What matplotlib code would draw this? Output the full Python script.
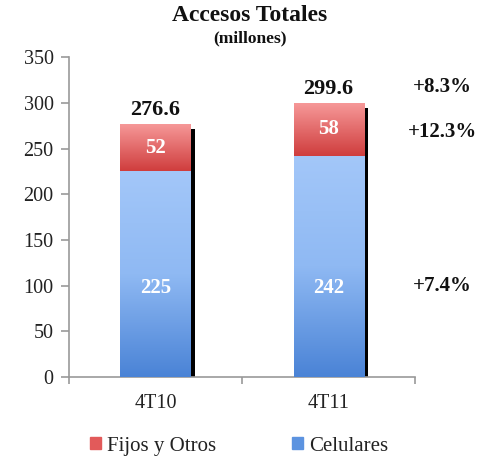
import numpy as np
import matplotlib.pyplot as plt
import matplotlib.patches as mpatches
import matplotlib.patheffects as pe
from matplotlib.colors import LinearSegmentedColormap

plt.rcParams['font.family'] = ['Liberation Serif', 'DejaVu Serif']

# data
periods = ["4T10", "4T11"]
celulares = [225, 242]
fijos = [52, 58]
totales = [276.6, 299.6]
growth_labels = ["+8.3%", "+12.3%", "+7.4%"]
growth_y = [317, 268, 100]

fig = plt.figure(figsize=(4.86, 4.57), dpi=100)
ax = fig.add_axes([0.142, 0.175, 0.712, 0.70])

x = np.arange(len(periods))
w = 0.405
shadow = [pe.SimplePatchShadow(offset=(3.5, -4), shadow_rgbFace='black', alpha=1.0), pe.Normal()]

b_cel = ax.bar(x, celulares, w, color='#7aa9ea', zorder=2, path_effects=shadow)
b_fij = ax.bar(x, fijos, w, bottom=celulares, color='#e66a6a', zorder=2, path_effects=shadow)

# gradient fills clipped to each bar
blue_cm = LinearSegmentedColormap.from_list('b', ['#4a83d6', '#8fb9f3', '#a3c7f9'])
red_cm = LinearSegmentedColormap.from_list('r', ['#cf3d3d', '#f79a9a'])
grad = np.linspace(0, 1, 256).reshape(-1, 1)
for bars, cm in [(b_cel, blue_cm), (b_fij, red_cm)]:
    for p in bars:
        x0, y0 = p.get_x(), p.get_y()
        im = ax.imshow(grad, cmap=cm, aspect='auto', origin='lower',
                       extent=[x0, x0 + p.get_width(), y0, y0 + p.get_height()],
                       zorder=3)
        im.set_clip_path(p)

for i in range(len(periods)):
    # the lower labels sit at about the same height in both bars
    ax.text(x[i], 97, str(celulares[i]), ha='center', va='center',
            color='white', fontsize=15, fontweight='bold', zorder=5)
    ax.text(x[i], celulares[i] + fijos[i] / 2, str(fijos[i]), ha='center', va='center',
            color='white', fontsize=15, fontweight='bold', zorder=5)
    ax.text(x[i], totales[i] + 5, "%.1f" % totales[i], ha='center', va='bottom',
            color='#111111', fontsize=16, fontweight='bold', zorder=5)

for lab, yy in zip(growth_labels, growth_y):
    ax.text(1.66, yy, lab, ha='center', va='center', fontsize=15,
            fontweight='bold', color='#111111', clip_on=False)

ax.set_xlim(-0.5, 1.5)
ax.set_ylim(0, 350)
ax.set_yticks(range(0, 351, 50))
ax.set_xticks(x)
ax.set_xticklabels(periods)
ax.set_xticks([-0.5, 0.5, 1.5], minor=True)
ax.tick_params(axis='x', which='major', length=0, pad=12, labelsize=14.5, labelcolor='#222222')
ax.tick_params(axis='x', which='minor', length=5, color='#999999', width=1.2)
ax.tick_params(axis='y', length=6, color='#999999', width=1.2, labelsize=14.5,
               labelcolor='#222222', pad=5)
for s in ['top', 'right']:
    ax.spines[s].set_visible(False)
for s in ['left', 'bottom']:
    ax.spines[s].set_color('#999999')
    ax.spines[s].set_linewidth(1.2)

fig.text(0.514, 0.967, "Accesos Totales", ha='center', va='center',
         fontsize=17, fontweight='bold', color='#111111')
fig.text(0.514, 0.915, "(millones)", ha='center', va='center',
         fontsize=12.5, fontweight='bold', color='#111111')

handles = [mpatches.Patch(color='#e25a5a', label='Fijos y Otros'),
           mpatches.Patch(color='#5c93e0', label='Celulares')]
fig.legend(handles=handles, loc='center', bbox_to_anchor=(0.492, 0.024), ncol=2,
           frameon=False, fontsize=15, handlelength=0.55, handleheight=0.55,
           handletextpad=0.3, columnspacing=3.6, labelcolor='#222222')

fig.savefig("out.png", dpi=100)
